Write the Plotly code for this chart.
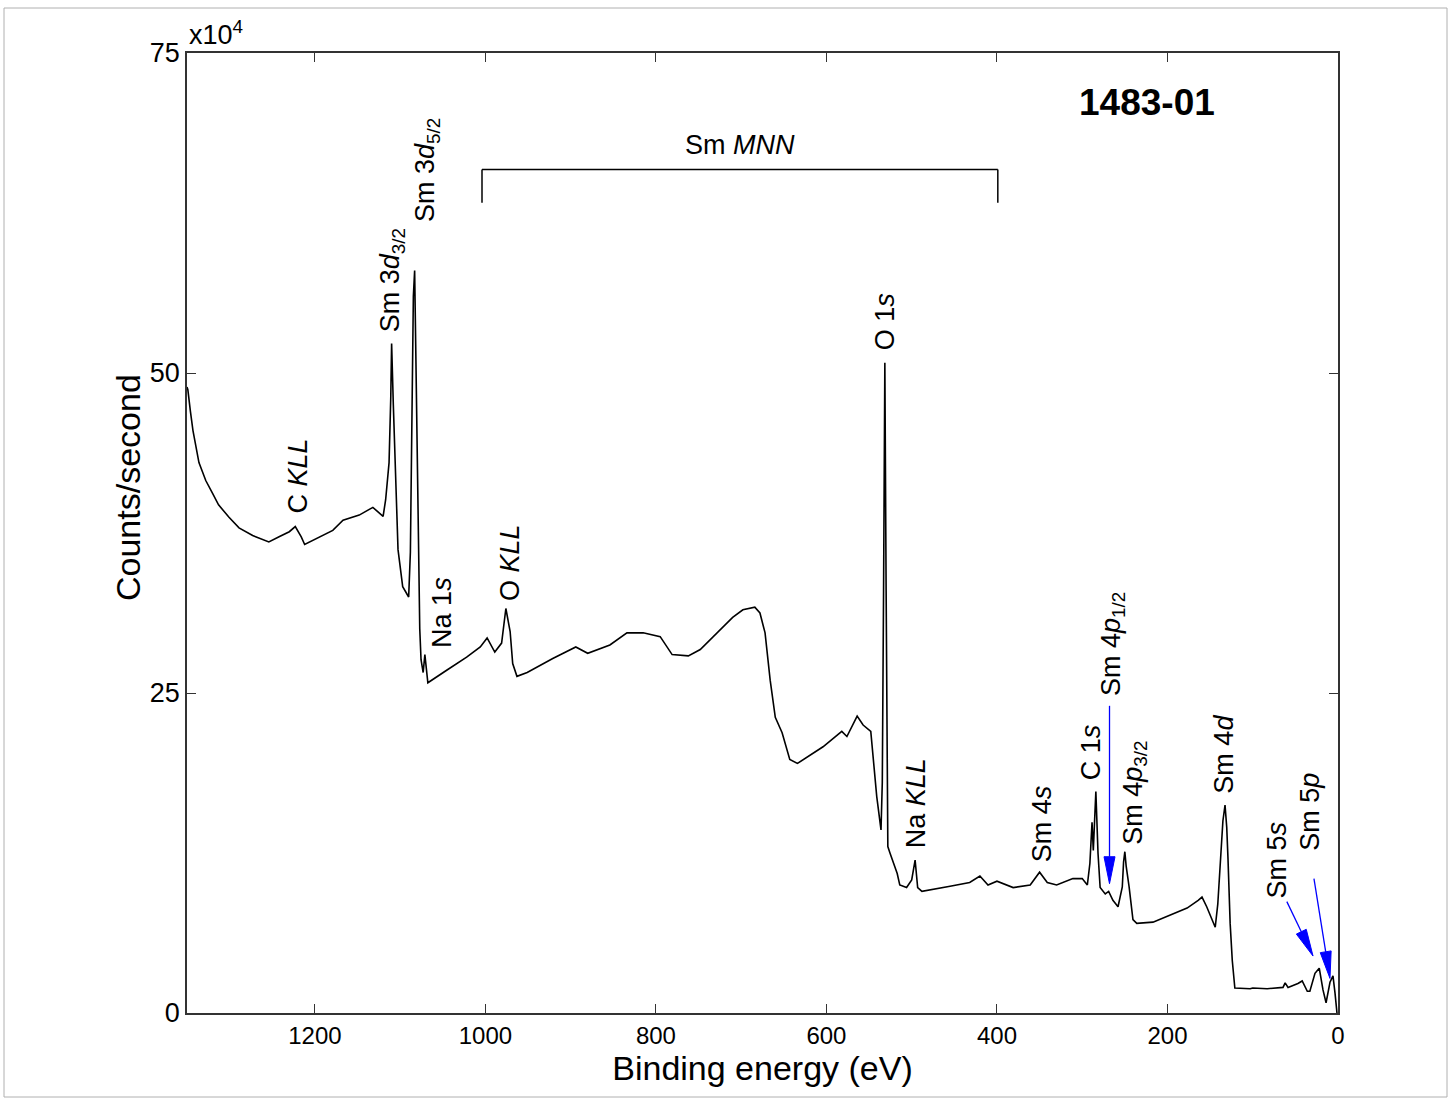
import plotly.graph_objects as go

# ---------------- data (binding energy in eV, counts in units of 1e4 c/s) ----------------
energy = [1350, 1349, 1346, 1343, 1336, 1328, 1320, 1313, 1301, 1289, 1273, 1254, 1242, 1230,
          1223, 1216, 1212, 1195, 1179, 1167, 1148, 1132, 1120, 1117, 1113, 1111, 1110,
          1108, 1105.5, 1102.5, 1097, 1090, 1088, 1086, 1084.5, 1083, 1081, 1079, 1077,
          1075.5, 1073, 1071, 1067.5, 1045, 1022, 1006, 998, 989, 981, 976, 971, 968, 963,
          951, 940, 921, 894, 880, 854, 834, 815, 795, 781, 762, 748, 728, 710, 698, 684,
          678, 672, 666, 660, 652, 643, 634, 604, 582, 576, 564, 557, 548, 545, 541, 536,
          534.5, 533, 531.5, 530, 529, 528, 525.5, 517, 514, 506, 500, 496, 493, 488, 455,
          432, 420, 410.5, 400, 393, 381, 361, 350, 341, 330, 311, 300, 294, 291, 288.5,
          287, 284, 281.5, 279, 273, 269, 264, 258, 253, 251.5, 250, 248.5, 245, 240.5,
          236, 217, 197, 177, 164, 159.5, 154, 148, 144, 141, 138, 135, 132.5, 130.5, 129,
          126.5, 124, 121, 103, 100, 83, 64.5, 62, 58.6, 47, 42, 36, 33, 27, 22, 17.6, 14,
          9.4, 5.9, 3.5, 1.2]
counts = [48.9, 48.7, 47.0, 45.5, 43.0, 41.6, 40.6, 39.7, 38.75, 37.9, 37.3, 36.8, 37.2, 37.6,
          38.0, 37.2, 36.6, 37.2, 37.7, 38.5, 38.9, 39.5, 38.8, 40.1, 43.0, 48.1, 52.3,
          47.5, 41.4, 36.2, 33.3, 32.5, 36.0, 47.0, 56.0, 58.0, 48.0, 38.0, 30.0,
          27.6, 26.6, 28.0, 25.8, 26.8, 27.8, 28.6, 29.3, 28.2, 28.9, 31.6, 29.8, 27.3, 26.3,
          26.6, 27.0, 27.7, 28.6, 28.1, 28.75, 29.7, 29.7, 29.4, 28.0, 27.9, 28.4, 29.7, 30.9, 31.5, 31.7,
          31.25, 29.7, 26.0, 23.1, 21.9, 19.8, 19.5, 20.8, 22.0, 21.6, 23.2, 22.5, 22.0, 19.5, 16.9, 14.3,
          18.0, 33.0, 50.8, 33.0, 16.0, 13.0, 12.5, 10.9, 10.0, 9.8, 10.4, 11.95, 9.8, 9.5, 9.9,
          10.2, 10.7, 10.0, 10.3, 10.1, 9.8, 10.0, 11.0, 10.2, 10.0, 10.5, 10.5, 10.0, 11.7, 14.9,
          12.7, 17.3, 12.5, 9.8, 9.3, 9.5, 8.8, 8.3, 9.85, 11.8, 12.6, 11.5, 9.85, 7.3,
          7.0, 7.1, 7.65, 8.2, 8.8, 9.06, 8.3, 7.3, 6.7, 8.5, 12.0, 15.0, 16.25, 14.5, 12.0,
          7.0, 4.1, 1.95, 1.9, 1.95, 1.9, 2.0, 2.35, 2.0, 2.3, 2.5, 1.7, 1.7, 3.1, 3.5, 1.8, 0.8,
          2.4, 2.9, 1.56, 0.0]

x_ticks = [0, 200, 400, 600, 800, 1000, 1200]
y_ticks = [0, 25, 50, 75]

# peak labels: (text, energy, counts at bottom of rotated label)
peak_labels = [
    ("C <i>KLL</i>", 1220, 38.9),
    ("Sm 3<i>d</i><sub>3/2</sub>", 1110, 53.0),
    ("Sm 3<i>d</i><sub>5/2</sub>", 1069, 61.6),
    ("Na 1<i>s</i>", 1051, 28.4),
    ("O <i>KLL</i>", 971, 32.0),
    ("O 1<i>s</i>", 531, 51.6),
    ("Na <i>KLL</i>", 494, 12.7),
    ("Sm 4<i>s</i>", 347, 11.6),
    ("C 1<i>s</i>", 290, 18.0),
    ("Sm 4<i>p</i><sub>1/2</sub>", 264, 24.6),
    ("Sm 4<i>p</i><sub>3/2</sub>", 239, 13.0),
    ("Sm 4<i>d</i>", 134, 17.0),
    ("Sm 5<i>s</i>", 72, 8.8),
    ("Sm 5<i>p</i>", 33, 12.5),
]

# blue arrows: (tail energy, tail counts, tip energy, tip counts)
arrows = [
    (268, 24.0, 268, 10.1),
    (60, 8.7, 29.3, 4.45),
    (28.2, 10.5, 9.4, 2.7),
]

# Sm MNN bracket (energy left, energy right, top level, bottom of legs)
mnn_bracket = [1004, 399, 65.9, 63.3]

# ---------------- layout constants ----------------
W, H = 1452, 1103
ML, MR, MT, MB = 187, 114, 53, 90
PW, PH = W - ML - MR, H - MT - MB
XMAX, YMAX = 1350, 75
sx = PW / XMAX
sy = PH / YMAX
FONT = "Liberation Sans, Arial, Helvetica, sans-serif"
LABEL_SIZE = 27

fig = go.Figure()
fig.add_trace(go.Scatter(x=energy, y=counts, mode="lines",
                         line=dict(color="black", width=1.6), hoverinfo="skip",
                         showlegend=False))

annotations = []
for txt, e, c in peak_labels:
    annotations.append(dict(x=e, y=c, xref="x", yref="y", text=txt, textangle=-90,
                            showarrow=False, xanchor="center", yanchor="bottom",
                            font=dict(size=LABEL_SIZE, color="black", family=FONT)))

# Sm MNN label
annotations.append(dict(x=(mnn_bracket[0] + mnn_bracket[1]) / 2, y=mnn_bracket[2] + 0.6,
                        xref="x", yref="y", text="Sm <i>MNN</i>", showarrow=False,
                        xanchor="center", yanchor="bottom",
                        font=dict(size=LABEL_SIZE, color="black", family=FONT)))
# sample ID
annotations.append(dict(x=0.834, y=0.948, xref="paper", yref="paper", text="<b>1483-01</b>",
                        showarrow=False, xanchor="center", yanchor="middle",
                        font=dict(size=37, color="black", family=FONT)))
# multiplier
annotations.append(dict(x=0.0, y=1.0, xref="paper", yref="paper",
                        text="x10<sup>4</sup>", showarrow=False, xanchor="left",
                        yanchor="bottom", yshift=1, xshift=0,
                        font=dict(size=27, color="black", family=FONT)))
# y-axis title (placed slightly above the plot centre as in the original)
annotations.append(dict(x=-(ML - 128) / PW, y=(H - MB - 488) / PH, xref="paper", yref="paper",
                        text="Counts/second", textangle=-90, showarrow=False,
                        xanchor="center", yanchor="middle",
                        font=dict(size=34, color="black", family=FONT)))

shapes = []
# bracket
l, r, top, bot = mnn_bracket
shapes.append(dict(type="line", xref="x", yref="y", x0=l, x1=r, y0=top, y1=top,
                   line=dict(color="black", width=1.5)))
for xe in (l, r):
    shapes.append(dict(type="line", xref="x", yref="y", x0=xe, x1=xe, y0=top, y1=bot,
                       line=dict(color="black", width=1.5)))

# arrows with long narrow heads
HEAD_L, HEAD_W = 27, 11
for e0, c0, e1, c1 in arrows:
    X0, Y0 = -e0 * sx, -c0 * sy
    X1, Y1 = -e1 * sx, -c1 * sy
    dx, dy = X1 - X0, Y1 - Y0
    n = (dx * dx + dy * dy) ** 0.5
    ux, uy = dx / n, dy / n
    bx, by = X1 - ux * HEAD_L, Y1 - uy * HEAD_L
    px, py = -uy, ux
    pts = [(X1, Y1), (bx + px * HEAD_W / 2, by + py * HEAD_W / 2),
           (bx - px * HEAD_W / 2, by - py * HEAD_W / 2)]
    to_data = lambda p: (-p[0] / sx, -p[1] / sy)
    dpts = [to_data(p) for p in pts]
    be, bc = to_data((bx, by))
    shapes.append(dict(type="line", xref="x", yref="y", x0=e0, y0=c0, x1=be, y1=bc,
                       line=dict(color="#0000FF", width=1.3)))
    path = "M {} {} L {} {} L {} {} Z".format(dpts[0][0], dpts[0][1], dpts[1][0], dpts[1][1],
                                              dpts[2][0], dpts[2][1])
    shapes.append(dict(type="path", xref="x", yref="y", path=path,
                       fillcolor="#0000FF", line=dict(color="#0000FF", width=1)))

# thin outer frame of the figure
fx0, fx1, fy0, fy1 = 4, 1447, 8, 1097
shapes.append(dict(type="rect", xref="paper", yref="paper",
                   x0=(fx0 - ML) / PW, x1=(fx1 - ML) / PW,
                   y0=(H - MB - fy1) / PH, y1=(H - MB - fy0) / PH,
                   line=dict(color="#b0b0b0", width=1)))

fig.update_layout(
    width=W, height=H,
    margin=dict(l=ML, r=MR, t=MT, b=MB, autoexpand=False),
    paper_bgcolor="white", plot_bgcolor="white",
    font=dict(family=FONT, color="black"),
    annotations=annotations, shapes=shapes,
    xaxis=dict(range=[XMAX, 0], tickvals=x_ticks, ticks="inside", ticklen=9,
               tickcolor="#333", tickwidth=1, showline=True, linecolor="#333",
               linewidth=1.5, mirror="ticks", showgrid=False, zeroline=False,
               tickfont=dict(size=24, family=FONT),
               title=dict(text="Binding energy (eV)", font=dict(size=34, family=FONT),
                          standoff=4)),
    yaxis=dict(range=[0, YMAX], tickvals=y_ticks, ticks="inside", ticklen=9,
               tickcolor="#333", tickwidth=1, showline=True, linecolor="#333",
               linewidth=1.5, mirror="ticks", showgrid=False, zeroline=False,
               tickfont=dict(size=27, family=FONT)),
)

fig.write_html("out.html")
